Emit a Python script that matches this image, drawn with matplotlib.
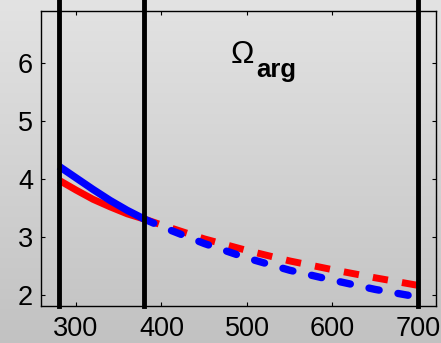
import numpy as np
import matplotlib
matplotlib.use('Agg')
from matplotlib import pyplot as plt

plt.rcParams['font.family'] = ['Liberation Sans', 'DejaVu Sans']

# solid part (280..380) and dashed part (380..700)
x_solid = [280, 300, 320, 340, 360, 380]
red_solid = [3.98, 3.81, 3.65, 3.52, 3.40, 3.31]
blue_solid = [4.22, 4.02, 3.82, 3.63, 3.46, 3.31]

x_dash = [380, 400, 450, 500, 550, 600, 650, 700]
red_dash = [3.31, 3.21, 2.97, 2.77, 2.59, 2.44, 2.30, 2.17]
blue_dash = [3.31, 3.18, 2.89, 2.64, 2.43, 2.26, 2.10, 1.97]

bounds = [280, 380, 700]
xticks = [300, 400, 500, 600, 700]
yticks = [2, 3, 4, 5, 6]

fig = plt.figure(figsize=(4.41, 3.43), dpi=100)

# grey gradient background
bg = fig.add_axes([0, 0, 1, 1], zorder=-10)
grad = np.linspace(0.89, 0.76, 256).reshape(-1, 1)
bg.imshow(np.dstack([grad, grad, grad]), aspect='auto', extent=[0, 1, 0, 1])
bg.axis('off')

ax = fig.add_axes([0.0937, 0.108, 0.8943, 0.860])
ax.set_facecolor('none')

ax.plot(x_solid, red_solid, c='red', lw=5, solid_capstyle='butt', zorder=2)
ax.plot(x_solid, blue_solid, c='blue', lw=5.3, solid_capstyle='butt', zorder=3)
ax.plot(x_dash, red_dash, c='red', lw=5, dashes=(2.2, 2.05), dash_capstyle='butt', zorder=2)
ax.plot(x_dash, blue_dash, c='blue', lw=5.3, dashes=(1.4, 2.6), dash_capstyle='round', zorder=3)

for b in bounds:
    ax.axvline(b, ymin=0, ymax=1.05, c='black', lw=3.5, clip_on=False, zorder=5)

ax.text(481, 6.0, 'Ω', fontsize=22.5, va='baseline', ha='left')
ax.text(511, 5.76, 'arg', fontsize=18.5, fontweight='bold', va='baseline', ha='left')

ax.set_xlim(259.5, 720.7)
ax.set_ylim(1.816, 6.889)
ax.set_xticks(xticks)
ax.set_yticks(yticks)
ax.tick_params(axis='both', direction='in', top=True, right=True, length=3, width=0.8,
               labelsize=19.5)
ax.tick_params(axis='x', pad=7)
ax.tick_params(axis='y', pad=6)
for s in ax.spines.values():
    s.set_linewidth(1.0)

fig.savefig('out.png', dpi=100)
